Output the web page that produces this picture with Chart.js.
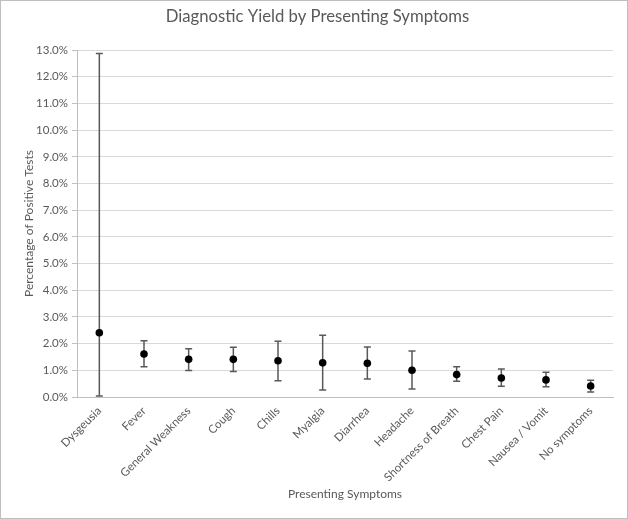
<!DOCTYPE html>
<html>
<head>
<meta charset="utf-8">
<script src="https://cdn.jsdelivr.net/npm/chart.js@4"></script>
<style>
html,body{margin:0;padding:0;background:#fff;}
#wrap{position:relative;width:628px;height:519px;box-sizing:border-box;border:1px solid #bfbfbf;}
canvas{display:block;}
</style>
</head>
<body>
<div id="wrap"><canvas id="c" width="626" height="517"></canvas></div>
<script>
const categories = ['Dysgeusia','Fever','General Weakness','Cough','Chills','Myalgia','Diarrhea','Headache','Shortness of Breath','Chest Pain','Nausea / Vomit','No symptoms'];
const values = [2.41,1.61,1.41,1.41,1.36,1.28,1.26,1.00,0.84,0.71,0.64,0.41];
const upperBound = [12.87,2.11,1.81,1.86,2.09,2.31,1.87,1.72,1.13,1.05,0.93,0.63];
const lowerBound = [0.04,1.13,0.99,0.96,0.61,0.26,0.67,0.30,0.59,0.40,0.38,0.19];

const FONT = 'Lato, "Open Sans", sans-serif';
const TXT = '#595959';

const errorBars = {
  id: 'errorBars',
  beforeDatasetsDraw(chart) {
    const ctx = chart.ctx, xs = chart.scales.x, ys = chart.scales.y;
    ctx.save();
    ctx.strokeStyle = '#595959';
    ctx.lineWidth = 1.5;
    for (let i = 0; i < categories.length; i++) {
      const x = xs.getPixelForValue(i);
      const yt = ys.getPixelForValue(upperBound[i]);
      const yb = ys.getPixelForValue(lowerBound[i]);
      ctx.beginPath();
      ctx.moveTo(x, yt); ctx.lineTo(x, yb);
      ctx.moveTo(x - 3.5, yt); ctx.lineTo(x + 3.5, yt);
      ctx.moveTo(x - 3.5, yb); ctx.lineTo(x + 3.5, yb);
      ctx.stroke();
    }
    ctx.restore();
  }
};

new Chart(document.getElementById('c'), {
  type: 'line',
  data: {
    labels: categories,
    datasets: [{
      data: values,
      showLine: false,
      pointRadius: 3.8,
      pointHoverRadius: 3.8,
      pointBackgroundColor: '#000',
      pointBorderColor: '#000',
      pointBorderWidth: 0
    }]
  },
  options: {
    responsive: false,
    animation: false,
    devicePixelRatio: 1,
    layout: { padding: { left: 21, right: 14, top: 2, bottom: 17 } },
    plugins: {
      legend: { display: false },
      tooltip: { enabled: false },
      title: {
        display: true,
        text: 'Diagnostic Yield by Presenting Symptoms',
        color: TXT,
        font: { family: FONT, size: 16.7, weight: 'normal' },
        padding: { top: 4, bottom: 23 }
      }
    },
    scales: {
      x: {
        offset: true,
        afterFit(scale) { scale.height = 104; },
        grid: { display: false, drawTicks: false },
        border: { display: true, color: '#bfbfbf', width: 1 },
        ticks: {
          color: TXT, font: { family: FONT, size: 11.5 },
          minRotation: 45, maxRotation: 45, autoSkip: false, padding: 7
        },
        title: {
          display: true, text: 'Presenting Symptoms', color: TXT,
          font: { family: FONT, size: 12 }, padding: { top: 4, bottom: 0 }
        }
      },
      y: {
        min: 0, max: 13,
        afterFit(scale) { scale.width = 55; },
        grid: {
          color: (c) => (c.tick && Math.abs(c.tick.value % 1) < 1e-6) ? '#d9d9d9' : '#efefef',
          tickColor: '#bfbfbf',
          tickLength: 5,
          lineWidth: 1
        },
        border: { display: true, color: '#bfbfbf' },
        ticks: {
          stepSize: 0.5,
          color: TXT, font: { family: FONT, size: 11.5 }, padding: 4,
          callback: (v) => (Math.abs(v % 1) < 1e-6) ? v.toFixed(1) + '%' : ''
        },
        title: {
          display: true, text: 'Percentage of Positive Tests', color: TXT,
          font: { family: FONT, size: 12 }, padding: { top: 0, bottom: 4 }
        }
      }
    }
  },
  plugins: [errorBars]
});
</script>
</body>
</html>
